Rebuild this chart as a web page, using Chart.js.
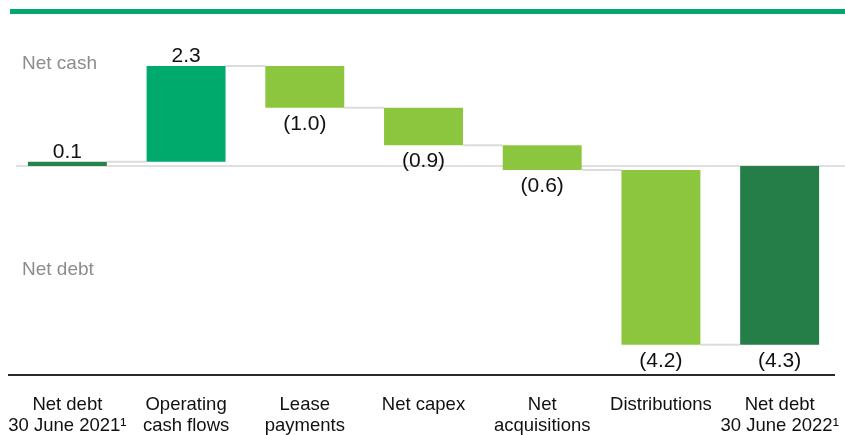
<!DOCTYPE html>
<html>
<head>
<meta charset="utf-8">
<script src="https://cdn.jsdelivr.net/npm/chart.js@4.4.0/dist/chart.umd.min.js"></script>
<style>
  html, body { margin: 0; padding: 0; background: #fff; }
  #wrap { position: relative; width: 845px; height: 435px; }
  #topline { position: absolute; left: 10px; top: 9px; width: 835px; height: 5px; background: #00a86b; }
  canvas { position: absolute; left: 0; top: 0; }
</style>
</head>
<body>
<div id="wrap">
  <div id="topline"></div>
  <canvas id="c" width="845" height="435"></canvas>
</div>
<script>
const categories = [
  ["Net debt", "30 June 2021\u00B9"],
  ["Operating", "cash flows"],
  ["Lease", "payments"],
  ["Net capex"],
  ["Net", "acquisitions"],
  ["Distributions"],
  ["Net debt", "30 June 2022\u00B9"]
];
const changes = [0.1, 2.3, -1.0, -0.9, -0.6, -4.2, -4.3];
const isTotal = [true, false, false, false, false, false, true];
const valueLabels = ["0.1", "2.3", "(1.0)", "(0.9)", "(0.6)", "(4.2)", "(4.3)"];
const barColors = ["#27814a", "#00aa6c", "#8cc63f", "#8cc63f", "#8cc63f", "#8cc63f", "#257d48"];
const sideLabels = [["Net cash", 2.46], ["Net debt", -2.49]];

// floating ranges built from the changes
const ranges = [];
let run = 0;
changes.forEach((v, i) => {
  if (isTotal[i]) { ranges.push([0, v]); run = v; }
  else { ranges.push([run, run + v]); run += v; }
});

const FONT = "'Liberation Sans', Arial, sans-serif";

const decor = {
  id: 'decor',
  beforeDatasetsDraw(chart) {
    const ctx = chart.ctx, y = chart.scales.y;
    const y0 = Math.round(y.getPixelForValue(0));
    ctx.save();
    ctx.strokeStyle = '#e0e0e0';
    ctx.lineWidth = 2;
    ctx.beginPath();
    ctx.moveTo(16, y0); ctx.lineTo(845, y0);
    ctx.stroke();
    // connectors
    const meta = chart.getDatasetMeta(0);
    ctx.strokeStyle = '#dcdcdc';
    for (let i = 0; i < ranges.length - 1; i++) {
      const a = meta.data[i], b = meta.data[i + 1];
      const level = ranges[i][1];
      const py = y.getPixelForValue(level);
      ctx.beginPath();
      ctx.moveTo(a.x + a.width / 2, py);
      ctx.lineTo(b.x - b.width / 2, py);
      ctx.stroke();
    }
    // side labels
    ctx.fillStyle = '#8c8c8c';
    ctx.font = '19px ' + FONT;
    ctx.textBaseline = 'middle';
    ctx.textAlign = 'left';
    sideLabels.forEach(([t, v]) => ctx.fillText(t, 22, y.getPixelForValue(v)));
    ctx.restore();
  },
  afterDatasetsDraw(chart) {
    const ctx = chart.ctx, y = chart.scales.y, area = chart.chartArea;
    const meta = chart.getDatasetMeta(0);
    ctx.save();
    ctx.fillStyle = '#111';
    ctx.font = '21px ' + FONT;
    ctx.textAlign = 'center';
    ctx.textBaseline = 'alphabetic';
    meta.data.forEach((bar, i) => {
      const v = changes[i];
      const top = y.getPixelForValue(Math.max(...ranges[i]));
      const bot = y.getPixelForValue(Math.min(...ranges[i]));
      if (v >= 0) ctx.fillText(valueLabels[i], bar.x, top - 4);
      else ctx.fillText(valueLabels[i], bar.x, bot + 22);
    });
    // bottom axis line
    ctx.strokeStyle = '#2b2b2b';
    ctx.lineWidth = 2;
    ctx.beginPath();
    ctx.moveTo(8, area.bottom); ctx.lineTo(835, area.bottom);
    ctx.stroke();
    ctx.restore();
  }
};

new Chart(document.getElementById('c'), {
  type: 'bar',
  data: {
    labels: categories,
    datasets: [{
      data: ranges,
      backgroundColor: barColors,
      borderWidth: 0,
      borderSkipped: false,
      categoryPercentage: 1,
      barPercentage: 0.665
    }]
  },
  options: {
    responsive: false,
    animation: false,
    layout: { padding: { left: 8, right: 6, top: 12, bottom: 0 } },
    plugins: { legend: { display: false }, tooltip: { enabled: false } },
    scales: {
      x: {
        grid: { display: false, drawTicks: false },
        border: { display: false },
        ticks: {
          color: '#111',
          font: { family: FONT, size: 18.5, lineHeight: 1.135 },
          padding: 19,
          maxRotation: 0,
          autoSkip: false
        },
        afterFit(scale) {
          scale.height = 60;
          scale.paddingLeft = 0;
          scale.paddingRight = 0;
        }
      },
      y: {
        display: false,
        min: -5.024,
        max: 3.70
      }
    }
  },
  plugins: [decor]
});
</script>
</body>
</html>
